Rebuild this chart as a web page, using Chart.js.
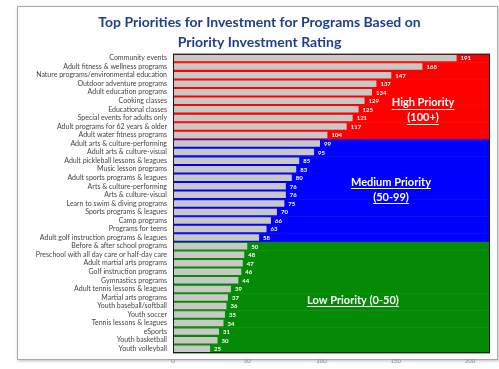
<!DOCTYPE html>
<html>
<head>
<meta charset="utf-8">
<script src="https://cdn.jsdelivr.net/npm/chart.js@4/dist/chart.umd.min.js"></script>
<style>
  html, body { margin: 0; padding: 0; background: #fff; }
  #wrap { position: relative; width: 499px; height: 369px; overflow: hidden; }
  #frame { position: absolute; left: 17px; top: 6px; width: 479px; height: 352px;
           border: 1px solid #a8a8a8; box-shadow: 1px 1px 3px rgba(0,0,0,0.25); background: #fff; }
  #chart { position: absolute; left: 0; top: 0; }
</style>
</head>
<body>
<div id="wrap">
  <div id="frame"></div>
  <canvas id="chart" width="499" height="369"></canvas>
</div>
<script>
// Programs ranked by Priority Investment Rating
const programs = [
  'Community events',
  'Adult fitness & wellness programs',
  'Nature programs/environmental education',
  'Outdoor adventure programs',
  'Adult education programs',
  'Cooking classes',
  'Educational classes',
  'Special events for adults only',
  'Adult programs for 62 years & older',
  'Adult water fitness programs',
  'Adult arts & culture-performing',
  'Adult arts & culture-visual',
  'Adult pickleball lessons & leagues',
  'Music lesson programs',
  'Adult sports programs & leagues',
  'Arts & culture-performing',
  'Arts & culture-visual',
  'Learn to swim & diving programs',
  'Sports programs & leagues',
  'Camp programs',
  'Programs for teens',
  'Adult golf instruction programs & leagues',
  'Before & after school programs',
  'Preschool with all day care or half-day care',
  'Adult martial arts programs',
  'Golf instruction programs',
  'Gymnastics programs',
  'Adult tennis lessons & leagues',
  'Martial arts programs',
  'Youth baseball/softball',
  'Youth soccer',
  'Tennis lessons & leagues',
  'eSports',
  'Youth basketball',
  'Youth volleyball'
];

const ratings = [
  191, 168, 147, 137, 134, 129, 125, 121, 117, 104,
  99, 95, 85, 83, 80, 76, 76, 75, 70, 66, 63, 58,
  50, 48, 47, 46, 44, 39, 37, 36, 35, 34, 31, 30, 25
];

const axisTicks = [0, 50, 100, 150, 200];
const axisMax = 213.5;

const titleLines = [
  'Top Priorities for Investment for Programs Based on',
  'Priority Investment Rating'
];

// Priority tiers: lower bound of the rating, fill colour and caption lines
const tierFloors = [100, 51, 0];
const tierColors = ['#fe0000', '#0000fe', '#058a05'];
const tierCaptions = [
  ['High Priority', '(100+)'],
  ['Medium Priority', '(50-99)'],
  ['Low Priority (0-50)']
];

function tierOf(v) {
  for (let t = 0; t < tierFloors.length; t++) if (v >= tierFloors[t]) return t;
  return tierFloors.length - 1;
}

const FONT = 'Lato, "Open Sans", sans-serif';

// Coloured tier bands behind the bars, one band per row
const tierBands = {
  id: 'tierBands',
  beforeDatasetsDraw(chart) {
    const { ctx, chartArea: a, scales: { y } } = chart;
    const step = y.getPixelForValue(1) - y.getPixelForValue(0);
    ctx.save();
    ratings.forEach((v, i) => {
      const cy = y.getPixelForValue(i);
      ctx.fillStyle = tierColors[tierOf(v)];
      ctx.fillRect(a.left, cy - step / 2, a.right - a.left, step + 0.5);
    });
    ctx.restore();
  },
  afterDraw(chart) {
    const { ctx, chartArea: a } = chart;
    ctx.save();
    ctx.strokeStyle = '#1a1a1a';
    ctx.lineWidth = 1;
    ctx.strokeRect(a.left + 0.5, a.top + 0.5, a.right - a.left - 1, a.bottom - a.top - 1);
    ctx.restore();
  }
};

// Rating printed just past the end of each bar
const valueLabels = {
  id: 'valueLabels',
  afterDatasetsDraw(chart) {
    const { ctx } = chart;
    const meta = chart.getDatasetMeta(0);
    ctx.save();
    ctx.fillStyle = '#ffffff';
    ctx.font = 'bold 6px ' + FONT;
    ctx.textAlign = 'left';
    ctx.textBaseline = 'middle';
    meta.data.forEach((bar, i) => {
      ctx.fillText(String(ratings[i]), bar.x + 4, bar.y + 0.5);
    });
    ctx.restore();
  }
};

// Tier captions inside the coloured areas
const tierLabels = {
  id: 'tierLabels',
  afterDatasetsDraw(chart) {
    const { ctx, scales: { x, y } } = chart;
    const spots = [
      { xv: 168.4, rows: [5.22, 6.97] },
      { xv: 146.8, rows: [14.55, 16.3] },
      { xv: 121.2, rows: [28.3] }
    ];
    ctx.save();
    ctx.fillStyle = '#ffffff';
    ctx.strokeStyle = '#ffffff';
    ctx.lineWidth = 1;
    ctx.font = 'bold 11px ' + FONT;
    ctx.textAlign = 'center';
    ctx.textBaseline = 'middle';
    tierCaptions.forEach((lines, t) => {
      const cx = x.getPixelForValue(spots[t].xv);
      lines.forEach((txt, k) => {
        const cy = y.getPixelForValue(spots[t].rows[k]);
        ctx.fillText(txt, cx, cy);
        const w = ctx.measureText(txt).width;
        ctx.beginPath();
        ctx.moveTo(cx - w / 2, Math.round(cy + 6) + 0.5);
        ctx.lineTo(cx + w / 2, Math.round(cy + 6) + 0.5);
        ctx.stroke();
      });
    });
    ctx.restore();
  }
};

new Chart(document.getElementById('chart'), {
  type: 'bar',
  data: {
    labels: programs,
    datasets: [{
      data: ratings,
      backgroundColor: '#c8c8c6',
      borderWidth: 0,
      barPercentage: 0.76,
      categoryPercentage: 1
    }]
  },
  options: {
    responsive: false,
    animation: false,
    indexAxis: 'y',
    layout: { padding: { left: 29, right: 9, top: 0, bottom: 0 } },
    plugins: {
      legend: { display: false },
      tooltip: { enabled: false },
      title: {
        display: true,
        text: titleLines,
        color: '#1f3e8e',
        font: { family: FONT, size: 14, weight: 'bold', lineHeight: 1.42 },
        padding: { top: 13, bottom: 1 }
      }
    },
    scales: {
      x: {
        min: 0,
        max: axisMax,
        afterBuildTicks(s) { s.ticks = axisTicks.map(v => ({ value: v })); },
        afterFit(s) { s.height = 16; },
        grid: { display: false, drawTicks: false },
        border: { display: false },
        ticks: { font: { family: FONT, size: 6 }, color: '#8a8a8a', padding: 4 }
      },
      y: {
        afterFit(s) { s.width = 144; },
        grid: { display: false, drawTicks: false },
        border: { display: false },
        ticks: { autoSkip: false, font: { family: FONT, size: 7 }, color: '#444444', padding: 6 }
      }
    }
  },
  plugins: [tierBands, valueLabels, tierLabels]
});
</script>
</body>
</html>
